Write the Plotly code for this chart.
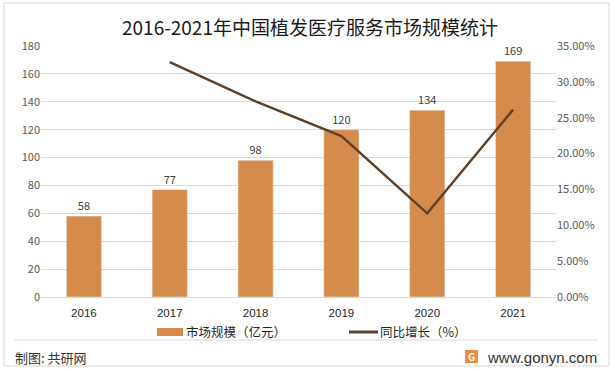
import plotly.graph_objects as go

years = ["2016", "2017", "2018", "2019", "2020", "2021"]
market = [58, 77, 98, 120, 134, 169]
growth_years = ["2017", "2018", "2019", "2020", "2021"]
growth = [0.3276, 0.2727, 0.2245, 0.1167, 0.2612]
left_ticks = [0, 20, 40, 60, 80, 100, 120, 140, 160, 180]
right_ticks = [0, 0.05, 0.10, 0.15, 0.20, 0.25, 0.30, 0.35]
series_names = ["市场规模（亿元）", "同比增长（%）"]

BAR = "#D48B4C"
LINE = "#5E4128"
FONT = "Noto Sans CJK SC, Liberation Sans, sans-serif"

fig = go.Figure()
fig.add_trace(go.Bar(
    x=years, y=market, name=series_names[0], marker_color=BAR,
    text=[str(v) for v in market], textposition="outside",
    textfont=dict(size=11, color="#404040"), cliponaxis=False, showlegend=False,
))
fig.add_trace(go.Scatter(
    x=growth_years, y=growth, name=series_names[1], yaxis="y2",
    mode="lines", line=dict(color=LINE, width=2.5), showlegend=False,
))

W, H = 615, 371
L, R, T, B = 41, 556, 46, 297
def px(x):
    return (x - L) / (R - L)
def py(y):
    return (B - y) / (B - T)

shapes = [
    dict(type="rect", xref="paper", yref="paper", x0=px(4), x1=px(609), y0=py(3), y1=py(366),
         line=dict(color="#D9D9D9", width=1), fillcolor="rgba(0,0,0,0)", layer="below"),
    dict(type="line", xref="paper", yref="paper", x0=px(14), x1=px(598), y0=py(340), y1=py(340),
         line=dict(color="#D9D9D9", width=1)),
    dict(type="rect", xref="paper", yref="paper", x0=px(465), x1=px(478), y0=py(350), y1=py(363),
         line=dict(width=0), fillcolor="#F08A3C"),
    # legend swatches
    dict(type="rect", xref="paper", yref="paper", x0=px(157), x1=px(183), y0=py(328), y1=py(336),
         line=dict(width=0), fillcolor=BAR),
    dict(type="line", xref="paper", yref="paper", x0=px(349), x1=px(378), y0=py(332), y1=py(332),
         line=dict(color=LINE, width=3)),
]
annotations = [
    dict(text="2016-2021年中国植发医疗服务市场规模统计", xref="paper", yref="paper",
         x=px(310), y=py(26), showarrow=False, xanchor="center", yanchor="middle",
         font=dict(size=19, color="#1a1a1a", family=FONT)),
    dict(text=series_names[0], xref="paper", yref="paper", x=px(184), y=py(332),
         showarrow=False, xanchor="left", yanchor="middle",
         font=dict(size=12.5, color="#262626", family=FONT)),
    dict(text=series_names[1], xref="paper", yref="paper", x=px(378), y=py(332),
         showarrow=False, xanchor="left", yanchor="middle",
         font=dict(size=12.5, color="#262626", family=FONT)),
    dict(text="制图: 共研网", xref="paper", yref="paper", x=px(13), y=py(357),
         showarrow=False, xanchor="left", yanchor="middle",
         font=dict(size=13, color="#333333", family=FONT)),
    dict(text="<b>G</b>", xref="paper", yref="paper", x=px(471.5), y=py(356.5),
         showarrow=False, xanchor="center", yanchor="middle",
         font=dict(size=10, color="white", family=FONT)),
    dict(text="www.gonyn.com", xref="paper", yref="paper", x=px(599), y=py(357),
         showarrow=False, xanchor="right", yanchor="middle",
         font=dict(size=15, color="#333333", family="Liberation Sans, sans-serif")),
]

fig.update_layout(
    width=W, height=H,
    margin=dict(l=L, r=W - R, t=T, b=H - B, autoexpand=False),
    paper_bgcolor="white", plot_bgcolor="white",
    font=dict(family=FONT, size=11, color="#595959"),
    bargap=0.59,
    showlegend=False,
    xaxis=dict(type="category", showgrid=False, showline=True, linecolor="#D9D9D9",
               ticks="", tickfont=dict(size=11.5, color="#262626", family="Liberation Sans, sans-serif"),
               ticklabelstandoff=5),
    yaxis=dict(range=[0, 180], tickvals=left_ticks, showgrid=True, gridcolor="#D9D9D9",
               zeroline=False, showline=False, ticks="", tickfont=dict(size=11, color="#595959")),
    yaxis2=dict(range=[0, 0.35], tickvals=right_ticks, tickformat=".2%", overlaying="y",
                side="right", showgrid=False, zeroline=False, showline=False,
                tickfont=dict(size=11, color="#595959")),
    shapes=shapes, annotations=annotations,
)
fig.write_html("out.html", config={"displayModeBar": False},
               post_script="document.body.style.margin='0';document.body.style.overflow='hidden';")
